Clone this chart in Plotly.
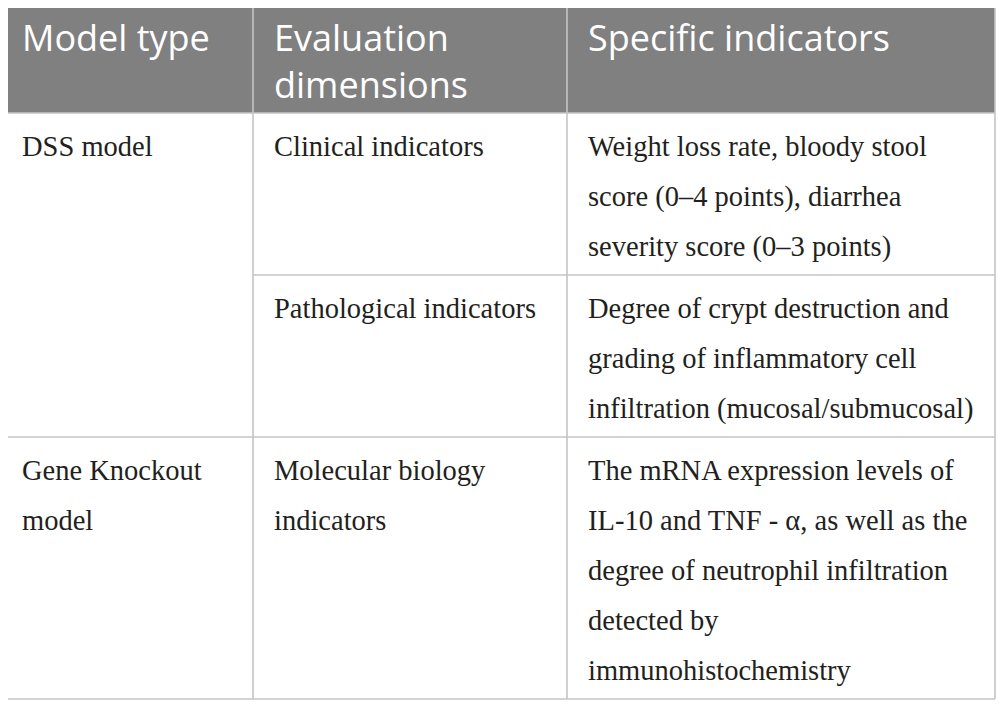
import plotly.graph_objects as go

# table content (each cell is a list of its printed lines)
headers = [["Model type"], ["Evaluation", "dimensions"], ["Specific indicators"]]

model_types = [["DSS model"], ["Gene Knockout", "model"]]
model_spans = [[0, 1], [2]]  # which dimension rows each model covers

dimensions = [
    ["Clinical indicators"],
    ["Pathological indicators"],
    ["Molecular biology", "indicators"],
]

indicators = [
    ["Weight loss rate, bloody stool",
     "score (0\u20134 points), diarrhea",
     "severity score (0\u20133 points)"],
    ["Degree of crypt destruction and",
     "grading of inflammatory cell",
     "infiltration (mucosal/submucosal)"],
    ["The mRNA expression levels of",
     "IL-10 and TNF - \u03b1, as well as the",
     "degree of neutrophil infiltration",
     "detected by",
     "immunohistochemistry"],
]

# layout of the table in page pixels
page_off = 8  # body margin of the html page
W, H = 1004 - page_off, 717 - page_off
col_edges = [1, 253, 567, 995]
header_top, header_bottom = 4, 113
line_gap = 50
row_pad = 12
first_base = 46
pad_x = 21
header_bg = "#808080"
rule_color = "#c4c4c4"
text_color = "#231f20"
body_size = 28.5
head_size = 36

# row boundaries from the number of lines in each row
row_tops = [header_bottom]
for i in range(len(dimensions)):
    n = max(len(dimensions[i]), len(indicators[i]))
    row_tops.append(row_tops[-1] + row_pad + line_gap * n)

fig = go.Figure()


def add_cell_text(lines, col, top, size, color, family, gap, base):
    xs, ys = [], []
    for k, _ in enumerate(lines):
        xs.append(col_edges[col] + pad_x)
        # text is centred vertically on the point; shift so baseline lands right
        ys.append(top + base + k * gap - 0.35 * size)
    fig.add_trace(go.Scatter(
        x=xs, y=ys, text=lines, mode="text",
        textposition="middle right",
        textfont=dict(size=size, color=color, family=family),
        hoverinfo="skip", showlegend=False,
    ))


def add_header_text(lines, col, size, base):
    # one text block per header cell; plotly spaces <br> lines by 1.3em
    n = len(lines)
    y = header_top + base + (n - 1) * 0.65 * size - 0.35 * size
    fig.add_trace(go.Scatter(
        x=[col_edges[col] + pad_x], y=[y], text=["<br>".join(lines)], mode="text",
        textposition="middle right",
        textfont=dict(size=size, color="white", family="Open Sans"),
        hoverinfo="skip", showlegend=False,
    ))


shapes = []
# header background
shapes.append(dict(type="rect", xref="x", yref="y",
                   x0=col_edges[0], x1=col_edges[-1], y0=header_top, y1=header_bottom,
                   fillcolor=header_bg, line=dict(width=0), layer="below"))

# header texts
for c, lines in enumerate(headers):
    add_header_text(lines, c, head_size, 51)

# body texts
for m, lines in enumerate(model_types):
    add_cell_text(lines, 0, row_tops[model_spans[m][0]], body_size, text_color,
                  "Liberation Serif", line_gap, first_base)
for r in range(len(dimensions)):
    add_cell_text(dimensions[r], 1, row_tops[r], body_size, text_color,
                  "Liberation Serif", line_gap, first_base)
    add_cell_text(indicators[r], 2, row_tops[r], body_size, text_color,
                  "Liberation Serif", line_gap, first_base)


# rules
def hline(y, x0, x1):
    shapes.append(dict(type="line", xref="x", yref="y", x0=x0, x1=x1, y0=y, y1=y,
                       line=dict(color=rule_color, width=1.6)))


def vline(x, y0, y1):
    shapes.append(dict(type="line", xref="x", yref="y", x0=x, x1=x, y0=y0, y1=y1,
                       line=dict(color=rule_color, width=1.6)))


hline(header_bottom, col_edges[0], col_edges[-1])
for r in range(1, len(dimensions)):
    # rows inside a model span only split the right two columns
    inside = any(r in s[1:] for s in model_spans)
    hline(row_tops[r], col_edges[1] if inside else col_edges[0], col_edges[-1])
hline(row_tops[-1], col_edges[0], col_edges[-1])
for x in col_edges:
    vline(x, header_top, row_tops[-1])

fig.update_layout(
    width=W, height=H,
    margin=dict(l=0, r=0, t=0, b=0),
    paper_bgcolor="white", plot_bgcolor="white",
    xaxis=dict(range=[page_off, W + page_off], visible=False, fixedrange=True),
    yaxis=dict(range=[H + page_off, page_off], visible=False, fixedrange=True),
    shapes=shapes,
)

fig.write_html("out.html")
